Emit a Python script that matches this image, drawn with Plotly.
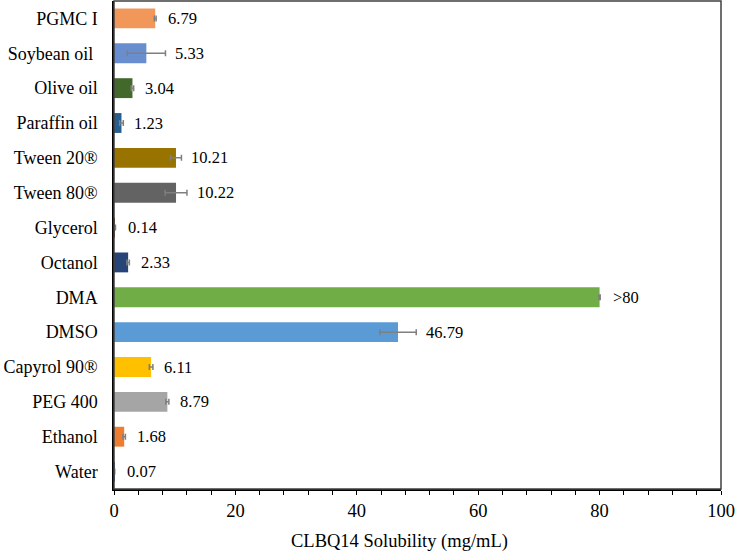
import plotly.graph_objects as go

categories = ["PGMC I", "Soybean oil\u00a0", "Olive oil", "Paraffin oil", "Tween 20®", "Tween 80®",
              "Glycerol", "Octanol", "DMA", "DMSO", "Capyrol 90®", "PEG 400", "Ethanol", "Water"]
values = [6.79, 5.33, 3.04, 1.23, 10.21, 10.22, 0.14, 2.33, 80.0, 46.79, 6.11, 8.79, 1.68, 0.07]
errors = [0.15, 3.15, 0.2, 0.3, 0.9, 1.8, 0.1, 0.2, 0.1, 3.0, 0.3, 0.25, 0.2, 0.05]
value_labels = ["6.79", "5.33", "3.04", "1.23", "10.21", "10.22", "0.14", "2.33", ">80", "46.79",
                "6.11", "8.79", "1.68", "0.07"]
colors = ["#F1975A", "#698ED0", "#43682B", "#255E91", "#997300", "#636363", "#9E480E", "#264478",
          "#70AD47", "#5B9BD5", "#FFC000", "#A5A5A5", "#ED7D31", "#4472C4"]

FONT = "Liberation Serif, Times New Roman, serif"

fig = go.Figure()
fig.add_trace(go.Bar(
    y=categories, x=values, orientation="h",
    marker=dict(color=colors, line=dict(width=0)),
    width=0.57,
    error_x=dict(type="data", array=errors, visible=True, color="#7F7F7F", thickness=1.5, width=3),
    hoverinfo="x+y",
))

annotations = []
for c, v, e, t in zip(categories, values, errors, value_labels):
    xl = max(v + 1.8, v + e + 1.3)
    annotations.append(dict(x=xl, y=c, xref="x", yref="y", text=t, showarrow=False,
                            xanchor="left", yanchor="middle",
                            font=dict(family=FONT, size=16.5, color="#000000")))

annotations.append(dict(x=0.47, y=-0.1066, xref="paper", yref="paper",
                        text="CLBQ14 Solubility (mg/mL)", showarrow=False,
                        xanchor="center", yanchor="middle",
                        font=dict(family=FONT, size=18.5, color="#000000")))

fig.update_layout(
    width=735, height=551,
    margin=dict(l=114, r=14, t=1, b=62, autoexpand=False),
    paper_bgcolor="white", plot_bgcolor="white",
    showlegend=False,
    font=dict(family=FONT, size=18, color="#000000"),
    annotations=annotations,
    shapes=[dict(type="rect", xref="paper", yref="paper", x0=0, x1=1, y0=0, y1=1,
                 line=dict(color="#404040", width=1.5), layer="above")],
    bargap=0.43,
)
fig.update_xaxes(range=[0, 100], dtick=20, tick0=0, showgrid=False, zeroline=False,
                 showline=True, linecolor="#000000", linewidth=1.5,
                 ticks="outside", ticklen=4, tickwidth=1.3, tickcolor="#000000",
                 minor=dict(dtick=4, ticks="outside", ticklen=4, tickwidth=1.3, tickcolor="#000000"),
                 tickfont=dict(family=FONT, size=18.5, color="#000000"))
fig.update_yaxes(autorange="reversed", showgrid=False, zeroline=False,
                 showline=True, linecolor="#000000", linewidth=1.5, ticks="",
                 ticklabelstandoff=11,
                 tickfont=dict(family=FONT, size=18, color="#000000"))

fig.write_html("out.html", config={"displayModeBar": False},
               post_script="document.body.style.margin='0';document.body.style.padding='0';")
